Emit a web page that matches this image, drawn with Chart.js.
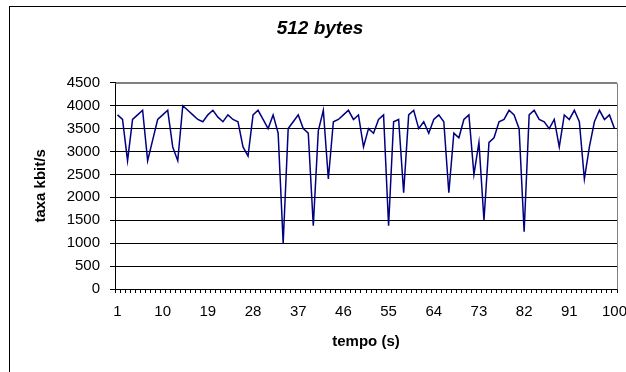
<!DOCTYPE html>
<html>
<head>
<meta charset="utf-8">
<script src="https://cdn.jsdelivr.net/npm/chart.js@4"></script>
<style>
  html, body { margin: 0; padding: 0; background: #fff; overflow: hidden; }
  #wrap { position: relative; width: 626px; height: 372px; }
  #frame { position: absolute; left: 9px; top: 6px; width: 700px; height: 500px; border: 1px solid #000; }
  #chart { position: absolute; left: 0; top: 0; }
</style>
</head>
<body>
<div id="wrap">
  <div id="frame"></div>
  <canvas id="chart" width="626" height="372"></canvas>
</div>
<script>
// tempo (s): one sample per second
const tempo = Array.from({ length: 100 }, (_, i) => String(i + 1));
const tickLabels = ['1', '10', '19', '28', '37', '46', '55', '64', '73', '82', '91', '100'];

// taxa kbit/s
const taxa = [
    3800, 3700, 2800, 3700, 3800, 3900, 2800, 3250, 3700, 3800,
    3900, 3100, 2800, 4000, 3900, 3800, 3700, 3650, 3800, 3900,
    3750, 3650, 3800, 3700, 3650, 3100, 2900, 3800, 3900, 3700,
    3500, 3800, 3400, 1000, 3500, 3650, 3800, 3500, 3400, 1380,
    3450, 3900, 2400, 3650, 3700, 3800, 3900, 3700, 3800, 3100,
    3500, 3400, 3700, 3800, 1380, 3650, 3700, 2100, 3800, 3900,
    3500, 3650, 3400, 3700, 3800, 3650, 2100, 3400, 3300, 3700,
    3800, 2500, 3200, 1500, 3200, 3300, 3650, 3700, 3900, 3800,
    3500, 1250, 3800, 3900, 3700, 3650, 3500, 3700, 3100, 3800,
    3700, 3900, 3650, 2400, 3100, 3650, 3900, 3700, 3800, 3500
];

const yTicks = [0, 500, 1000, 1500, 2000, 2500, 3000, 3500, 4000, 4500];

const fontFamily = '"Liberation Sans", Arial, sans-serif';

// gray frame on top and right of the plot area
const plotFrame = {
    id: 'plotFrame',
    afterDraw(chart) {
        const { ctx, chartArea: a } = chart;
        ctx.save();
        ctx.strokeStyle = '#808080';
        ctx.lineWidth = 1;
        ctx.beginPath();
        ctx.moveTo(Math.round(a.left) + 0.5, Math.round(a.top) + 0.5);
        ctx.lineTo(Math.round(a.right) + 0.5, Math.round(a.top) + 0.5);
        ctx.lineTo(Math.round(a.right) + 0.5, Math.round(a.bottom) + 0.5);
        ctx.stroke();
        ctx.restore();
    }
};

new Chart(document.getElementById('chart'), {
    type: 'line',
    data: {
        labels: tempo,
        datasets: [{
            label: '512 bytes',
            data: taxa,
            borderColor: '#000080',
            borderWidth: 1.5,
            pointRadius: 0,
            tension: 0,
            fill: false
        }]
    },
    options: {
        responsive: false,
        animation: false,
        layout: { padding: { left: 23, right: 9, top: 0, bottom: 0 } },
        plugins: {
            legend: { display: false },
            tooltip: { enabled: false },
            title: {
                display: true,
                text: '512 bytes',
                color: '#000',
                font: { family: fontFamily, size: 19, weight: 'bold', style: 'italic' },
                padding: { top: 17, bottom: 43 }
            }
        },
        scales: {
            x: {
                type: 'category',
                offset: true,
                afterFit(scale) {
                    scale.height = 83;
                    scale.paddingLeft = 0;
                    scale.paddingRight = 0;
                },
                border: { display: true, color: '#000', width: 1 },
                grid: {
                    offset: true,
                    drawOnChartArea: false,
                    drawTicks: true,
                    tickLength: 4,
                    color: '#000'
                },
                ticks: {
                    autoSkip: false,
                    maxRotation: 0,
                    color: '#000',
                    padding: 10,
                    font: { family: fontFamily, size: 15 },
                    callback(value) {
                        const lab = this.getLabelForValue(value);
                        return tickLabels.includes(lab) ? lab : '';
                    }
                },
                title: {
                    display: true,
                    text: 'tempo (s)',
                    color: '#000',
                    font: { family: fontFamily, size: 15, weight: 'bold' },
                    padding: { top: 0, bottom: 21 }
                }
            },
            y: {
                min: 0,
                max: 4500,
                afterFit(scale) {
                    scale.width = 92;
                },
                afterBuildTicks(scale) {
                    scale.ticks = yTicks.map(v => ({ value: v }));
                },
                border: { display: true, color: '#000', width: 1 },
                grid: {
                    drawTicks: true,
                    tickLength: 5,
                    color: ctx => (ctx.tick && ctx.tick.value === 4500 ? '#808080' : '#000'),
                    tickColor: '#000'
                },
                ticks: {
                    color: '#000',
                    padding: 10,
                    font: { family: fontFamily, size: 15 },
                    callback: value => String(value)
                },
                title: {
                    display: true,
                    text: 'taxa kbit/s',
                    color: '#000',
                    font: { family: fontFamily, size: 15, weight: 'bold' },
                    padding: { top: 9, bottom: 0 }
                }
            }
        }
    },
    plugins: [plotFrame]
});
</script>
</body>
</html>
